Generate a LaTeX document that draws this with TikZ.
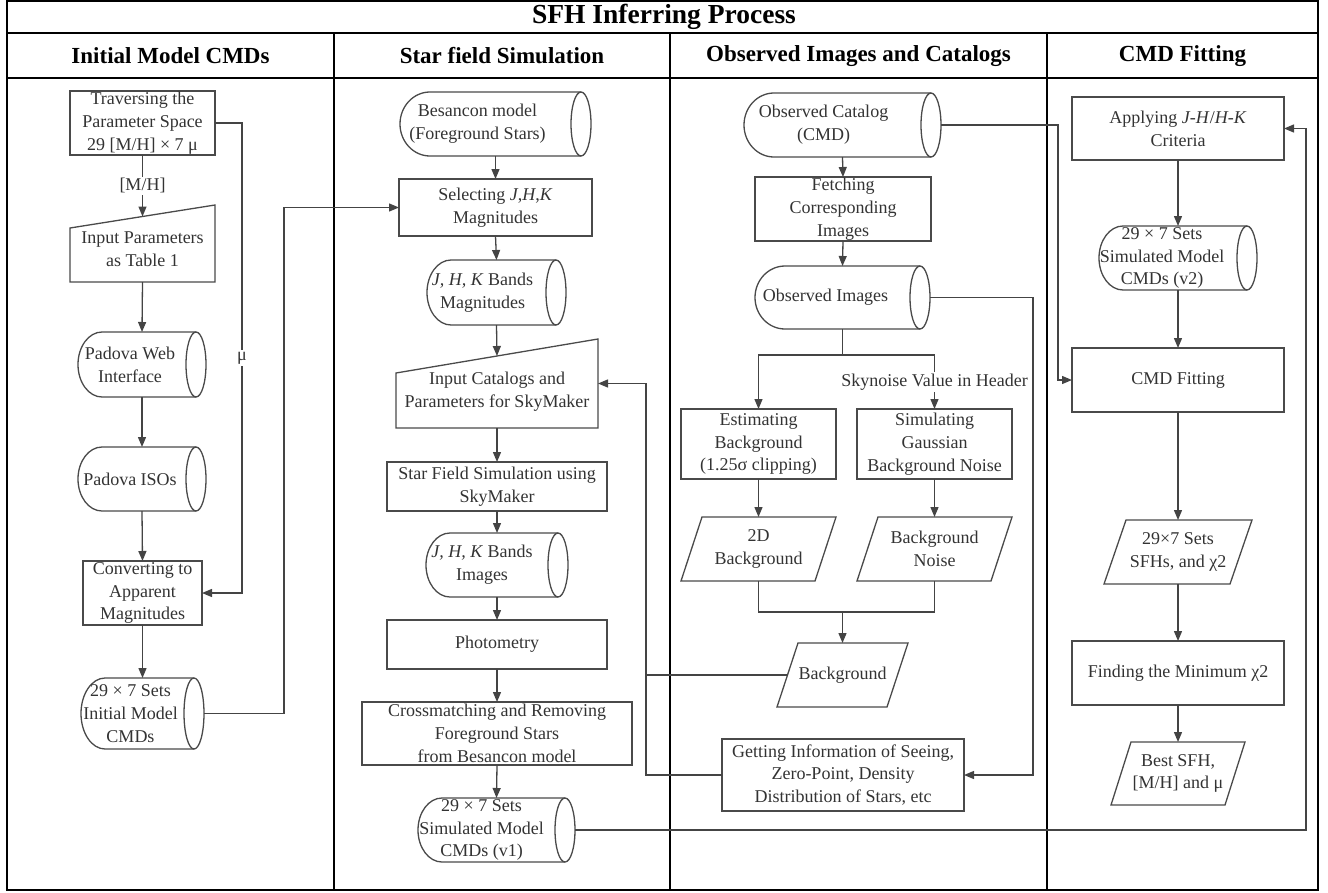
\documentclass[tikz,border=0pt]{standalone}
\usepackage{fontspec}
\setmainfont{Liberation Serif}
\usetikzlibrary{arrows.meta,calc}
\definecolor{shapecol}{HTML}{4A4A4A}
\definecolor{linecol}{HTML}{444444}
\definecolor{txtcol}{HTML}{333333}
\newcommand\bodyfont{\fontsize{18}{22.7}\selectfont}
\newcommand\cya{24}
\newcommand\cyb{10}
\newcommand\rectnode[6]{%
  \node[ghost, minimum width={#4-#2}, minimum height={#5-#3}] (#1) at ({(#2+#4)/2},{(#3+#5)/2}) {};
  \draw[shp] (#1.north west) rectangle (#1.south east);
  \node[txt] (#1-t) at (#1.center) {#6};
}
\newcommand\cylnode[7]{%
  \node[ghost, minimum width={#4-#2}, minimum height={#5-#3}] (#1) at ({(#2+#4)/2},{(#3+#5)/2}) {};
  \pgfmathsetmacro\cyry{(#5-#3)/2}
  \draw[shp] ({#4-\cyb},#3) -- ({#2+\cya},#3) arc[start angle=90, end angle=270, x radius=\cya pt, y radius=\cyry pt] -- ({#4-\cyb},#5);
  \draw[shp] ({#4-\cyb},{(#3+#5)/2}) ellipse [x radius=\cyb pt, y radius=\cyry pt];
  \node[txt] (#1-t) at ({(#2+#4)/2+#7},{(#3+#5)/2}) {#6};
}
\newcommand\mannode[7]{%
  \node[ghost, minimum width={#4-#2}, minimum height={#5-#3}] (#1) at ({(#2+#4)/2},{(#3+#5)/2}) {};
  \draw[shp] (#2,{#3+#6}) -- (#4,#3) -- (#4,#5) -- (#2,#5) -- cycle;
  \coordinate (#1-top) at ({(#2+#4)/2},{#3+#6/2});
  \node[txt] (#1-t) at ({(#2+#4)/2},{(#3+#6/2+#5)/2}) {#7};
}
\newcommand\paranode[7]{%
  \node[ghost, minimum width={#4-#2}, minimum height={#5-#3}] (#1) at ({(#2+#4)/2},{(#3+#5)/2}) {};
  \draw[shp] ({#2+#6},#3) -- (#4,#3) -- ({#4-#6},#5) -- (#2,#5) -- cycle;
  \coordinate (#1-w) at ({#2+#6/2},{(#3+#5)/2});
  \node[txt] (#1-t) at (#1.center) {#7};
}
\begin{document}
\begin{tikzpicture}[x=1pt,y=-1pt,
  ghost/.style={inner sep=0pt, outer sep=0pt, draw=none},
  shp/.style={draw=shapecol, line width=1.3pt, line join=miter},
  txt/.style={align=center, font=\bodyfont, text=txtcol, inner sep=0pt},
  conn/.style={draw=linecol, line width=1.3pt},
  arr/.style={conn, -{Triangle[length=10pt,width=8pt]}},
  lbl/.style={fill=white, inner sep=1.5pt, font=\bodyfont, text=txtcol},
  frame/.style={draw=black, line width=2pt},
  title/.style={font=\fontsize{27.5}{31}\selectfont\bfseries, text=black},
  head/.style={font=\fontsize{23}{27}\selectfont\bfseries, text=black}]
\useasboundingbox (0,0) rectangle (1328,892);
% table frame
\draw[frame] (7,1) rectangle (1318,890);
\draw[frame] (7,33) -- (1318,33);
\draw[frame] (7,78) -- (1318,78);
\draw[frame] (334,33) -- (334,890);
\draw[frame] (670,33) -- (670,890);
\draw[frame] (1047,33) -- (1047,890);
\node[title] (ttl) at (664,17) {SFH Inferring Process};
\node[head] (h1) at (170.5,56) {Initial Model CMDs};
\node[head] (h2) at (502,56) {Star field Simulation};
\node[head] (h3) at (858.5,56) {Observed Images and Catalogs};
\node[head] (h4) at (1182.5,56) {CMD Fitting};
% column 1
\rectnode{trav}{70}{91}{215}{155}{Traversing the\\Parameter Space\\29 [M/H] × 7 μ}
\mannode{inp}{70}{205}{215}{282}{23}{Input Parameters\\as Table 1}
\cylnode{web}{78}{332}{206}{397}{Padova Web\\Interface}{-12}
\cylnode{iso}{78}{447}{206}{511}{Padova ISOs}{-12}
\rectnode{conv}{83}{561}{202}{625}{Converting to\\Apparent\\Magnitudes}
\cylnode{init}{81}{678}{204}{749}{29 × 7 Sets\\Initial Model\\CMDs}{-12}
% column 2
\renewcommand\cya{30}
\cylnode{bes}{400}{92}{591}{156}{Besancon model\\(Foreground Stars)}{-18}
\renewcommand\cya{24}
\rectnode{sel}{399}{179}{592}{236}{Selecting \textit{J},\textit{H},\textit{K}\\Magnitudes}
\cylnode{jhkm}{427}{260}{566}{325}{\textit{J, H, K} Bands\\Magnitudes}{-14}
\mannode{inc}{396}{339}{598}{428}{34}{Input Catalogs and\\Parameters for SkyMaker}
\rectnode{sfs}{387}{462}{607}{511}{Star Field Simulation using\\SkyMaker}
\cylnode{jhki}{426}{533}{568}{597}{\textit{J, H, K} Bands\\Images}{-15}
\rectnode{phot}{387}{620}{607}{669}{Photometry}
\rectnode{cross}{362}{702}{632}{765}{Crossmatching and Removing\\Foreground Stars\\from Besancon model}
\cylnode{v1}{418}{798}{575}{862}{29 × 7 Sets\\Simulated Model\\CMDs (v1)}{-15}
% column 3
\renewcommand\cya{30}
\cylnode{cat}{744}{93}{941}{157}{Observed Catalog\\(CMD)}{-19}
\cylnode{obs}{755}{266}{930}{329}{Observed Images}{-17}
\renewcommand\cya{24}
\rectnode{fetch}{755}{177}{931}{241}{Fetching\\Corresponding\\Images}
\rectnode{est}{681}{409}{836}{479}{Estimating\\Background\\(1.25σ clipping)}
\rectnode{sim}{857}{409}{1012}{479}{Simulating\\Gaussian\\Background Noise}
\paranode{d2}{681}{517}{836}{581}{21}{2D\\Background}
\paranode{noise}{857}{517}{1012}{581}{21}{Background\\Noise}
\paranode{bg}{777}{643}{908}{707}{21}{Background}
\rectnode{gi}{722}{739}{964}{811}{Getting Information of Seeing,\\Zero-Point, Density\\Distribution of Stars, etc}
% column 4
\rectnode{app}{1072}{97}{1284}{160}{Applying \textit{J-H}/\textit{H-K}\\Criteria}
\cylnode{v2}{1099}{226}{1257}{290}{29 × 7 Sets\\Simulated Model\\CMDs (v2)}{-16}
\rectnode{fit}{1072}{348}{1284}{412}{CMD Fitting}
\paranode{sfhs}{1104}{520}{1252}{584}{22}{29×7 Sets\\SFHs, and χ2}
\rectnode{find}{1072}{641}{1284}{705}{Finding the Minimum χ2}
\paranode{best}{1111}{742}{1245}{805}{20}{Best SFH,\\{[M/H]} and μ}
% connectors column 1
\draw[arr] (trav.south) -- node[lbl]{[M/H]} (inp-top);
\draw[arr] (inp.south) -- (web.north);
\draw[arr] (web.south) -- (iso.north);
\draw[arr] (iso.south) -- (conv.north);
\draw[arr] (conv.south) -- (init.north);
\draw[arr] (trav.east) -- ++(27,0) |- node[lbl,pos=0.25]{μ} (conv.east);
\draw[arr] (init.east) -- ++(80,0) |- (sel.west);
% connectors column 2
\draw[arr] (bes.south) -- (sel.north);
\draw[arr] (sel.south) -- (jhkm.north);
\draw[arr] (jhkm.south) -- (inc-top);
\draw[arr] (inc.south) -- (sfs.north);
\draw[arr] (sfs.south) -- (jhki.north);
\draw[arr] (jhki.south) -- (phot.north);
\draw[arr] (phot.south) -- (cross.north);
\draw[arr] (cross.south) -- (v1.north);
\draw[arr] (gi.west) -- ++(-76,0) coordinate (gibus) |- (inc.east);
\draw[conn] (bg-w) -- (bg-w -| gibus);
\draw[arr] (v1.east) -- ++(731,0) |- (app.east);
% connectors column 3
\draw[arr] (cat.south) -- (fetch.north);
\draw[arr] (fetch.south) -- (obs.north);
\draw[conn] (obs.south) -- ++(0,26) coordinate (split);
\draw[arr] (split) -| (est.north);
\draw[arr] (split) -| node[lbl,pos=0.75]{Skynoise Value in Header} (sim.north);
\draw[arr] (est.south) -- (d2.north);
\draw[arr] (sim.south) -- (noise.north);
\draw[conn] (d2.south) -- ++(0,31) coordinate (merge) -| (noise.south);
\draw[arr] (bg.north |- merge) -- (bg.north);
\draw[arr] (obs.east) -- ++(103,0) |- (gi.east);
\draw[arr] (cat.east) -- ++(117,0) |- (fit.west);
% connectors column 4
\draw[arr] (app.south) -- (v2.north);
\draw[arr] (v2.south) -- (fit.north);
\draw[arr] (fit.south) -- (sfhs.north);
\draw[arr] (sfhs.south) -- (find.north);
\draw[arr] (find.south) -- (best.north);
\end{tikzpicture}
\end{document}
